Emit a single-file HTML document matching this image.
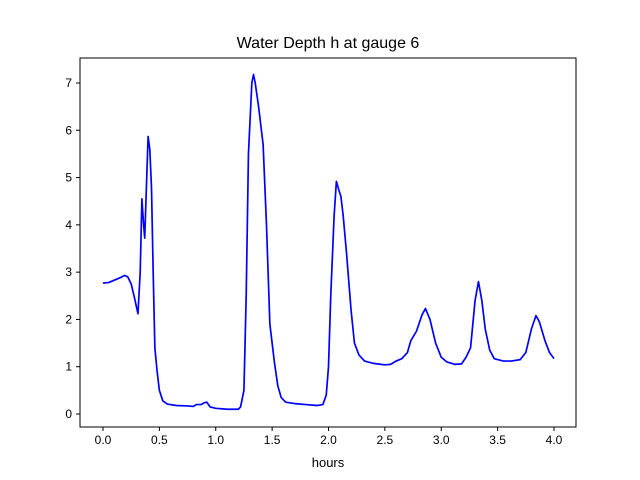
<!DOCTYPE html>
<html><head><meta charset="utf-8"><style>
body{margin:0;background:#fff;}
svg{display:block;font-family:"Liberation Sans","DejaVu Sans",sans-serif;}
</style></head><body>
<svg id="chart" width="640" height="480" xmlns="http://www.w3.org/2000/svg">
<rect width="640" height="480" fill="#fff"/>
<text x="328" y="48" font-size="16" text-anchor="middle">Water Depth h at gauge 6</text>
<g id="axes"></g>
<text x="328" y="467" font-size="13" text-anchor="middle">hours</text>
</svg>
<script>
const times = [0,0.05,0.1,0.15,0.19,0.22,0.25,0.28,0.31,0.33,0.345,0.36,0.37,0.385,0.4,0.415,0.43,0.445,0.46,0.48,0.5,0.53,0.57,0.65,0.75,0.8,0.83,0.87,0.9,0.92,0.95,1.0,1.1,1.2,1.22,1.25,1.27,1.29,1.32,1.335,1.35,1.38,1.42,1.45,1.48,1.52,1.55,1.58,1.62,1.7,1.8,1.9,1.95,1.98,2.0,2.02,2.05,2.07,2.09,2.11,2.13,2.16,2.2,2.23,2.27,2.32,2.4,2.5,2.55,2.6,2.65,2.7,2.73,2.78,2.83,2.86,2.9,2.95,3.0,3.05,3.12,3.18,3.22,3.26,3.3,3.33,3.36,3.39,3.43,3.47,3.55,3.62,3.7,3.75,3.8,3.84,3.87,3.92,3.96,4.0];
const depths = [2.77,2.78,2.83,2.88,2.93,2.9,2.75,2.45,2.12,3.0,4.55,4.0,3.72,4.8,5.87,5.6,4.8,3.0,1.4,0.9,0.5,0.28,0.21,0.18,0.17,0.16,0.2,0.2,0.24,0.25,0.15,0.12,0.1,0.1,0.15,0.5,2.5,5.5,7.0,7.18,7.0,6.5,5.7,4.0,1.9,1.1,0.6,0.35,0.25,0.22,0.2,0.18,0.2,0.4,1.0,2.5,4.2,4.92,4.75,4.6,4.2,3.4,2.2,1.5,1.25,1.12,1.07,1.04,1.05,1.12,1.17,1.3,1.55,1.75,2.1,2.23,2.0,1.5,1.2,1.1,1.05,1.06,1.2,1.4,2.4,2.8,2.4,1.8,1.35,1.17,1.12,1.12,1.15,1.3,1.8,2.08,1.95,1.55,1.3,1.17];
const xTicks = [0,0.5,1,1.5,2,2.5,3,3.5,4];
const xTickLabels = ["0.0","0.5","1.0","1.5","2.0","2.5","3.0","3.5","4.0"];
const yTicks = [0,1,2,3,4,5,6,7];
const yTickLabels = ["0","1","2","3","4","5","6","7"];

const L=80,R=576,T=58,B=427;
const xs = t => 103 + t*(554-103)/4;
const ys = v => 414 - v*(414-83)/7;
const NS="http://www.w3.org/2000/svg";
const g=document.getElementById('axes');
function mk(tag,attrs){const e=document.createElementNS(NS,tag);for(const k in attrs)e.setAttribute(k,attrs[k]);return e;}

const line=mk('polyline',{points:times.map((t,i)=>xs(t)+','+ys(depths[i])).join(' '),fill:'none',stroke:'#0000ff','stroke-width':1.7,'stroke-linejoin':'round'});


g.appendChild(line);

const frame=mk('rect',{x:L,y:T,width:R-L,height:B-T,fill:'none',stroke:'#000','stroke-width':1});


g.appendChild(frame);

xTicks.forEach((v,i)=>{
  const x=xs(v);
  const tk=mk('line',{x1:x,x2:x,y1:B,y2:B+4,stroke:'#000'});
  
  
  g.appendChild(tk);
  const tx=mk('text',{x:x,y:B+17,'font-size':12,'text-anchor':'middle'});
  
  
  tx.textContent=xTickLabels[i];g.appendChild(tx);
});
yTicks.forEach((v,i)=>{
  const y=ys(v);
  const tk=mk('line',{x1:L-4,x2:L,y1:y,y2:y,stroke:'#000'});
  
  
  g.appendChild(tk);
  const tx=mk('text',{x:L-8,y:y+4,'font-size':12,'text-anchor':'end'});
  
  
  tx.textContent=yTickLabels[i];g.appendChild(tx);
});
</script>
</body></html>
